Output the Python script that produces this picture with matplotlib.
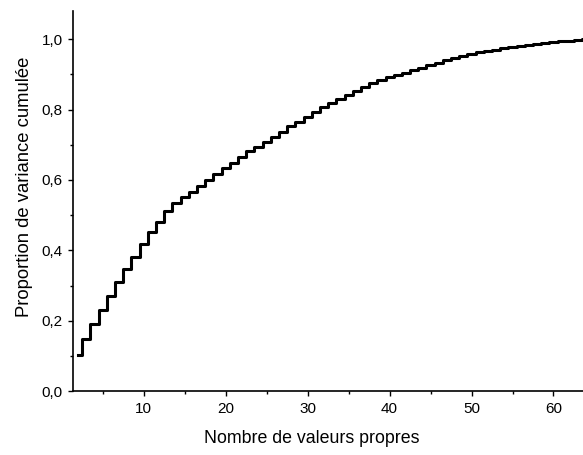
import matplotlib
matplotlib.use("Agg")
import matplotlib.pyplot as plt
from matplotlib.ticker import MultipleLocator, FuncFormatter

plt.rcParams['font.family'] = ['Liberation Sans', 'DejaVu Sans']

# nombre de valeurs propres retenues
n_vp = list(range(2, 65))
# proportion de variance cumulee
var_cum = [0.103, 0.148, 0.190, 0.231, 0.271, 0.310, 0.347, 0.382, 0.418,
           0.451, 0.480, 0.512, 0.534, 0.551, 0.566, 0.583, 0.600, 0.616,
           0.634, 0.648, 0.665, 0.681, 0.695, 0.709, 0.723, 0.737, 0.752,
           0.764, 0.779, 0.792, 0.806, 0.818, 0.830, 0.842, 0.853, 0.863,
           0.874, 0.884, 0.891, 0.897, 0.904, 0.912, 0.919, 0.926, 0.933,
           0.940, 0.947, 0.953, 0.958, 0.962, 0.966, 0.970, 0.974, 0.978,
           0.981, 0.984, 0.987, 0.990, 0.992, 0.994, 0.996, 0.998, 1.000]

fig = plt.figure(figsize=(5.83, 4.55), dpi=100)
ax = fig.add_axes([0.1257, 0.140, 0.8743, 0.836])

ax.plot(n_vp, var_cum, drawstyle='steps-mid', color='black', lw=2.2)

ax.set_xlim(1.4, 63.6)
ax.set_ylim(0, 1.08)
ax.xaxis.set_major_locator(MultipleLocator(10))
ax.xaxis.set_minor_locator(MultipleLocator(5))
ax.yaxis.set_major_locator(MultipleLocator(0.2))
ax.yaxis.set_minor_locator(MultipleLocator(0.1))
ax.yaxis.set_major_formatter(FuncFormatter(lambda v, p: f"{v:.1f}".replace('.', ',')))

for s in ['top', 'right']:
    ax.spines[s].set_visible(False)
for s in ['left', 'bottom']:
    ax.spines[s].set_linewidth(1.2)

ax.tick_params(which='major', direction='out', length=3.6, width=1, labelsize=11, pad=4)
ax.tick_params(which='minor', direction='out', length=2.2, width=1)

ax.set_xlabel('Nombre de valeurs propres', fontsize=12.8, labelpad=10)
ax.set_ylabel('Proportion de variance cumulée', fontsize=13.3, labelpad=6)
ax.xaxis.label.set_x(0.468)
ax.yaxis.label.set_y(0.5385)

fig.savefig('out.png', dpi=100)
